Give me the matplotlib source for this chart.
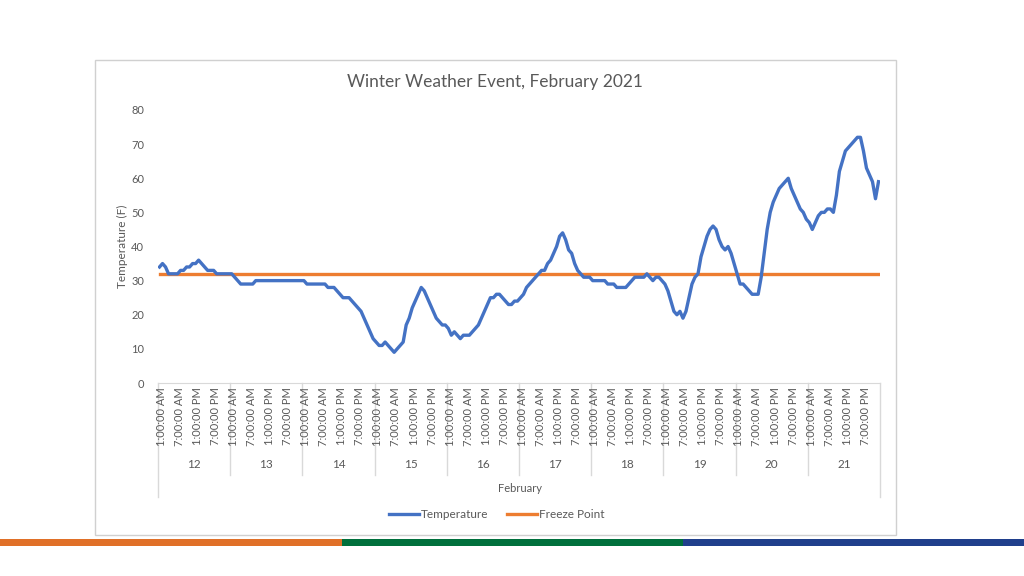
import matplotlib
matplotlib.use("Agg")
import matplotlib.pyplot as plt
from matplotlib.lines import Line2D
from matplotlib.patches import Rectangle

plt.rcParams["font.family"] = ["Lato", "DejaVu Sans"]

# Hourly temperatures (F), Feb 12 1:00 AM .. Feb 21
days = ["12", "13", "14", "15", "16", "17", "18", "19", "20", "21"]
hour_labels = ["1:00:00 AM", "7:00:00 AM", "1:00:00 PM", "7:00:00 PM"]
month_label = "February"

temp_12 = [34, 35, 34, 32, 32, 32, 32, 33, 33, 34, 34, 35,
           35, 36, 35, 34, 33, 33, 33, 32, 32, 32, 32, 32]
temp_13 = [32, 31, 30, 29, 29, 29, 29, 29, 30, 30, 30, 30,
           30, 30, 30, 30, 30, 30, 30, 30, 30, 30, 30, 30]
temp_14 = [30, 29, 29, 29, 29, 29, 29, 29, 28, 28, 28, 27,
           26, 25, 25, 25, 24, 23, 22, 21, 19, 17, 15, 13]
temp_15 = [12, 11, 11, 12, 11, 10, 9, 10, 11, 12, 17, 19,
           22, 24, 26, 28, 27, 25, 23, 21, 19, 18, 17, 17]
temp_16 = [16, 14, 15, 14, 13, 14, 14, 14, 15, 16, 17, 19,
           21, 23, 25, 25, 26, 26, 25, 24, 23, 23, 24, 24]
temp_17 = [25, 26, 28, 29, 30, 31, 32, 33, 33, 35, 36, 38,
           40, 43, 44, 42, 39, 38, 35, 33, 32, 31, 31, 31]
temp_18 = [30, 30, 30, 30, 30, 29, 29, 29, 28, 28, 28, 28,
           29, 30, 31, 31, 31, 31, 32, 31, 30, 31, 31, 30]
temp_19 = [29, 27, 24, 21, 20, 21, 19, 21, 25, 29, 31, 32,
           37, 40, 43, 45, 46, 45, 42, 40, 39, 40, 38, 35]
temp_20 = [32, 29, 29, 28, 27, 26, 26, 26, 31, 38, 45, 50,
           53, 55, 57, 58, 59, 60, 57, 55, 53, 51, 50, 48]
temp_21 = [47, 45, 47, 49, 50, 50, 51, 51, 50, 55, 62, 65,
           68, 69, 70, 71, 72, 72, 68, 63, 61, 59, 54, 59]

temperature = (temp_12 + temp_13 + temp_14 + temp_15 + temp_16
               + temp_17 + temp_18 + temp_19 + temp_20 + temp_21)
freeze_point = 32

BLUE = "#4472C4"
ORANGE = "#ED7D31"
TEXT = "#595959"
GRID = "#D9D9D9"

W, H = 1024, 576
fig = plt.figure(figsize=(W / 100, H / 100), dpi=100)


def fbox(x0, y0, x1, y1):
    # pixel box (top-left origin) -> figure fraction [l, b, w, h]
    return [x0 / W, 1 - y1 / H, (x1 - x0) / W, (y1 - y0) / H]


# chart frame
fig.patches.append(Rectangle((95 / W, 1 - 535 / H), 801 / W, 475 / H,
                             transform=fig.transFigure, fill=False,
                             edgecolor="#D0D0D0", lw=1))

# bottom colour strip
for x0, x1, c in [(0, 342, "#E07028"), (342, 683, "#00703C"), (683, 1024, "#203F8C")]:
    fig.patches.append(Rectangle((x0 / W, 1 - 545.5 / H), (x1 - x0) / W, 6.5 / H,
                                 transform=fig.transFigure, color=c, lw=0))

# ---------- main plot ----------
ax = fig.add_axes(fbox(158, 110, 880, 383))
n = len(temperature)
x = list(range(n))
ax.plot(x, temperature, color=BLUE, lw=2.4, solid_joinstyle="round", zorder=3)
ax.plot([x[0], x[-1]], [freeze_point, freeze_point], color=ORANGE, lw=2.4, zorder=2)
ax.set_xlim(-0.5, n - 0.5)
ax.set_ylim(0, 80)
ax.set_yticks(range(0, 81, 10))
ax.tick_params(axis="y", length=0, labelsize=8, labelcolor=TEXT, pad=10)
ax.set_xticks([])
for s in ["left", "right", "top"]:
    ax.spines[s].set_visible(False)
ax.spines["bottom"].set_color(GRID)
ax.set_ylabel("Temperature (F)", fontsize=8.5, color=TEXT, labelpad=2)

fig.text(495 / W, 1 - 82 / H, "Winter Weather Event, February 2021",
         ha="center", va="center", fontsize=12.5, color=TEXT)

# ---------- multi-level category axis ----------
cat = fig.add_axes(fbox(158, 383, 880, 497))
cat.set_xlim(-0.5, n - 0.5)
cat.set_ylim(114, 0)
cat.axis("off")
per_day = 24
step = per_day // len(hour_labels)
for d, day in enumerate(days):
    start = d * per_day - 0.5
    cat.plot([start, start], [0, 114 if d == 0 else 92], color=GRID, lw=1, clip_on=False)
    for k, lab in enumerate(hour_labels):
        cat.text(d * per_day + k * step + 0.6, 4, lab, rotation=90, ha="center",
                 va="top", fontsize=8, color=TEXT)
    cat.text(start + per_day / 2, 82, day, ha="center", va="center",
             fontsize=8.5, color=TEXT)
cat.plot([n - 0.5, n - 0.5], [0, 114], color=GRID, lw=1, clip_on=False)

fig.text(520 / W, 1 - 489 / H, month_label, ha="center", va="center",
         fontsize=8, color=TEXT)

# legend
handles = [Line2D([], [], color=BLUE, lw=2.4), Line2D([], [], color=ORANGE, lw=2.4)]
fig.legend(handles, ["Temperature", "Freeze Point"], loc="center",
           bbox_to_anchor=(497 / W, 1 - 515 / H), ncol=2, frameon=False,
           fontsize=8.5, labelcolor=TEXT, handlelength=2.5, handletextpad=0.2,
           columnspacing=1.6)

fig.savefig("out.png", dpi=100)
